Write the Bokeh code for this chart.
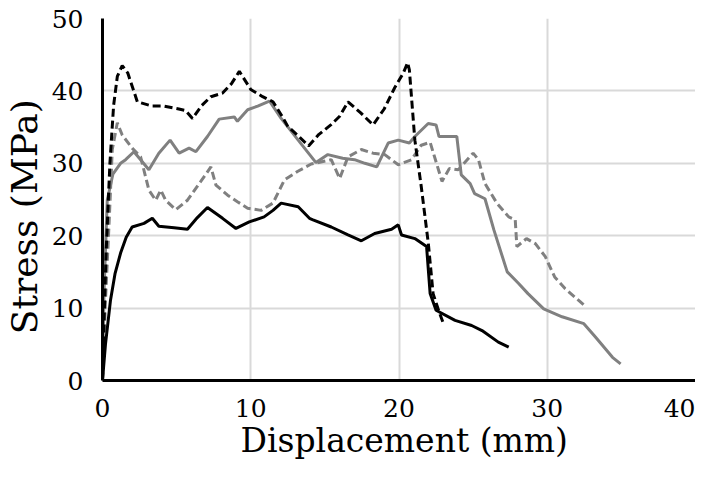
from bokeh.plotting import figure
from bokeh.models import Range1d, FixedTicker
from bokeh.embed import file_html
from bokeh.resources import INLINE

# Black dashed series
bd_x = [0, 0.1, 0.25, 0.5, 0.75, 1.0, 1.33, 1.7, 2.35, 3.36, 4.13, 5.15, 5.6, 6.07, 6.7, 7.31, 8.1, 8.7, 9.23,
        10.0, 10.8, 11.5, 12.05, 12.5, 13.2, 13.9, 14.6, 15.4, 16.0, 16.56, 17.4, 18.25, 19.0, 19.7, 20.3,
        20.58, 20.7, 21.07, 21.5, 21.98, 22.3, 22.7, 23.0]
bd_y = [0, 8, 18, 30, 38, 42, 43.5, 42.5, 38.5, 37.9, 37.9, 37.5, 37.3, 36.2, 38, 39.2, 39.7, 41, 42.7,
        40.2, 39.2, 38.5, 36.7, 35.1, 33.8, 32.4, 34, 35.3, 36.5, 38.5, 37, 35.3, 37.5, 40.4, 42.5,
        43.9, 42.9, 33.2, 26.8, 18.9, 12.0, 9.5, 7.85]

# Black solid series
bs_x = [0, 0.2, 0.54, 0.85, 1.22, 1.6, 2.0, 2.8, 3.36, 3.8, 4.83, 5.73, 6.4, 7.08, 8.1, 9.0, 9.9, 10.9,
        11.5, 12.05, 13.2, 13.96, 14.2, 15.43, 16.56, 17.46, 18.36, 19.5, 19.95, 20.17, 21.07, 21.86,
        22.1, 22.5, 23.78, 24.9, 25.6, 26.7, 27.4]
bs_y = [0, 5, 11.1, 14.8, 17.6, 19.8, 21.2, 21.7, 22.4, 21.3, 21.1, 20.9, 22.5, 23.9, 22.4, 21.0, 21.9, 22.6,
        23.5, 24.5, 24.0, 22.4, 22.2, 21.2, 20.1, 19.3, 20.3, 20.9, 21.5, 20.1, 19.6, 18.5,
        12.0, 9.7, 8.3, 7.6, 6.9, 5.3, 4.6]

# Gray solid series
gs_x = [0, 0.1, 0.32, 0.7, 1.22, 1.56, 2.12, 2.57, 3.13, 3.8, 4.56, 5.17, 5.84, 6.3, 7.08, 7.87, 8.89, 9.1,
        9.79, 10.47, 11.26, 12.05, 13.2, 14.4, 15.2, 16.2, 17.0, 17.7, 18.5, 19.27, 19.95, 20.7, 21.07,
        21.97, 22.5, 22.7, 23.9, 24.2, 24.8, 25.1, 25.8, 26.4, 27.3, 28.07, 28.7, 29.76, 31.0, 32.47,
        33.25, 34.4, 34.95]
gs_y = [0, 12, 24.9, 28.5, 30.0, 30.5, 31.6, 30.5, 29.1, 31.4, 33.2, 31.4, 32.1, 31.6, 33.7, 36.1, 36.4, 35.8,
        37.4, 37.9, 38.6, 36.2, 33.2, 30.1, 31.2, 30.7, 30.5, 30.0, 29.5, 32.8, 33.2, 32.8, 33.7,
        35.5, 35.3, 33.7, 33.7, 28.4, 27.2, 25.8, 25.1, 20.8, 15.0, 13.4, 12.0, 9.9, 8.8, 7.85,
        6.0, 3.2, 2.3]

# Gray dashed series
gd_x = [0, 0.2, 0.45, 0.66, 1.0, 1.33, 2.0, 2.57, 3.13, 3.59, 3.93, 4.26, 4.94, 5.73, 6.63, 7.31, 7.65,
        8.44, 9.1, 9.79, 10.7, 11.5, 12.27, 13.18, 14.08, 15.43, 16.0, 16.56, 17.46, 18.25, 19.04,
        19.95, 20.85, 21.5, 22.1, 22.9, 23.4, 24.0, 25.0, 25.36, 25.8, 26.6, 27.4, 27.84, 27.95, 28.6,
        29.2, 29.87, 30.5, 31.2, 32.6]
gd_y = [0, 11, 22, 31.9, 35.6, 33.9, 32.1, 30.9, 26.3, 24.9, 26.3, 24.9, 23.6, 24.9, 27.5, 29.5, 27.0,
        25.6, 24.7, 23.8, 23.5, 24.5, 27.7, 28.9, 29.9, 30.5, 27.9, 30.9, 31.9, 31.4, 31.2,
        29.8, 30.5, 32.5, 32.9, 27.5, 29.3, 29.1, 31.4, 30.5, 27.2, 24.5, 22.6, 22.2, 18.5, 19.6,
        18.9, 17.1, 14.3, 12.7, 10.2]

x_ticks = [0, 10, 20, 30, 40]
y_ticks = [0, 10, 20, 30, 40, 50]

FONT = "DejaVu Serif"
GRAY = "#808080"
NBSP = "\u00a0"

p = figure(width=695, height=462, output_backend="svg", toolbar_location=None,
           x_range=Range1d(0, 40), y_range=Range1d(0, 50),
           min_border_left=90, min_border_right=0, min_border_top=18, min_border_bottom=81)
p.outline_line_color = None

p.line(gd_x, gd_y, line_color=GRAY, line_width=3, line_dash="8 4")
p.line(gs_x, gs_y, line_color=GRAY, line_width=3)
p.line(bs_x, bs_y, line_color="black", line_width=3)
p.line(bd_x, bd_y, line_color="black", line_width=3, line_dash="8 4")

p.xaxis.ticker = FixedTicker(ticks=x_ticks)
p.yaxis.ticker = FixedTicker(ticks=y_ticks)
for ax in (p.xaxis[0], p.yaxis[0]):
    ax.axis_line_color = "black"
    ax.axis_line_width = 3
    ax.major_tick_line_color = None
    ax.minor_tick_line_color = None
    ax.major_label_text_font = FONT
    ax.major_label_text_font_size = "25px"
    ax.major_label_text_color = "black"
    ax.axis_label_text_font = FONT
    ax.axis_label_text_font_style = "normal"
    ax.axis_label_text_color = "black"

p.xaxis.axis_label = NBSP + "Displacement (mm)"
p.xaxis.axis_label_text_font_size = "33px"
p.xaxis.major_label_standoff = 12
p.xaxis.axis_label_standoff = 1
p.yaxis.axis_label = "Stress (MPa)" + NBSP * 3
p.yaxis.axis_label_text_font_size = "36px"
p.yaxis.major_label_standoff = 13
p.yaxis.axis_label_standoff = 4

p.xgrid.grid_line_color = "#d9d9d9"
p.xgrid.grid_line_width = 2
p.ygrid.grid_line_color = "#d9d9d9"
p.ygrid.grid_line_width = 2

open("out.html", "w").write(file_html(p, INLINE))
